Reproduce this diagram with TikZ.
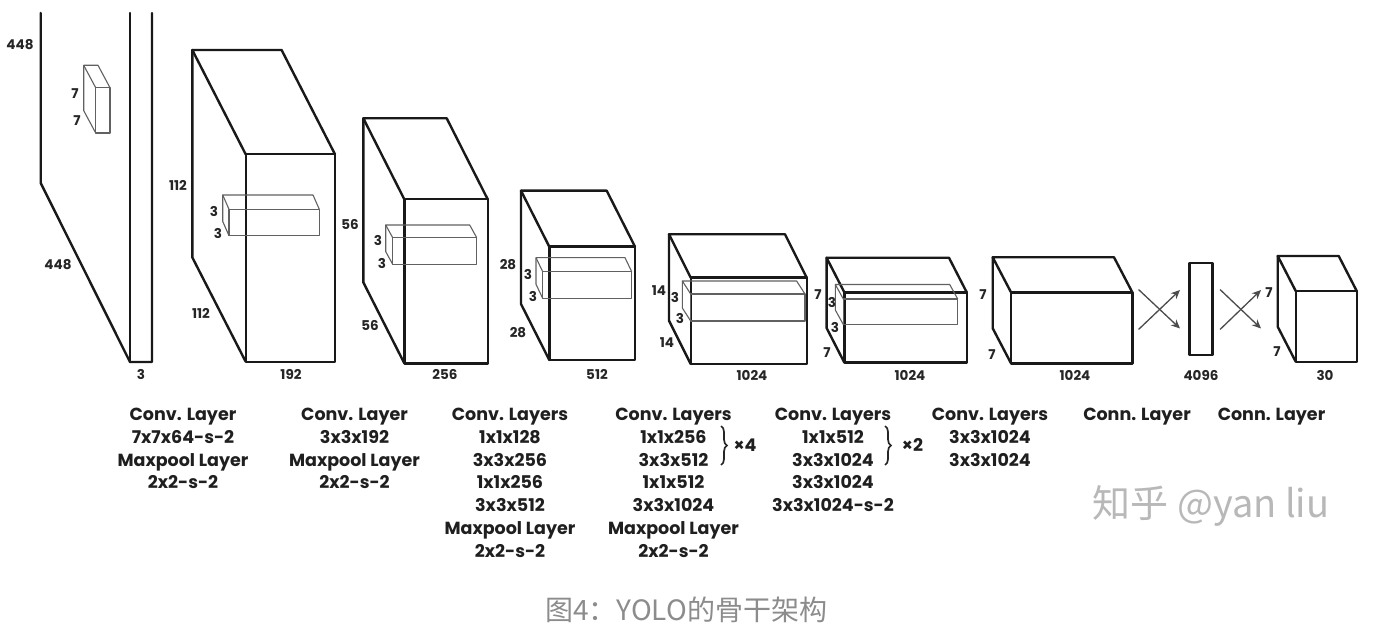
\documentclass[tikz,border=0pt]{standalone}
\usepackage{fontspec}
\setmainfont{Poppins}
\newfontfamily\lblfont{Poppins}
\newfontfamily\cjk{Noto Sans CJK SC}
\usetikzlibrary{arrows.meta,decorations.pathreplacing}
\newcommand\cuboid[7]{% style, x1,y1,x2,y2, dx,dy (back offset up-left)
  \draw[#1] (#2,#3) rectangle (#4,#5);
  \draw[#1] (#2,#3) -- (#2-#6,#3-#7) -- (#4-#6,#3-#7) -- (#4,#3);
  \draw[#1] (#2-#6,#3-#7) -- (#2-#6,#5-#7) -- (#2,#5);
}
\begin{document}
\begin{tikzpicture}[x=1pt,y=-1pt,
  cubeline/.style={line width=2.4pt, line join=round, line cap=round, black!90},
  inline/.style={line width=1.1pt, line join=round, black!62},
  dim/.style={font=\lblfont\bfseries\fontsize{13.5}{13.5}\selectfont, inner sep=0pt, text=black!85},
  lbl/.style={font=\lblfont\bfseries\fontsize{17.5}{17.5}\selectfont, inner sep=0pt, anchor=base, text=black!88},
  xarrow/.style={line width=1.3pt, black!70, -{Stealth[length=9pt,width=8pt]}},
  bracestyle/.style={decorate, decoration={brace, amplitude=6pt}, line width=1.7pt, black!85},
]
\fill[white] (0,0) rectangle (1378,644);
\useasboundingbox (0,0) rectangle (1378,644);

% input image plane
\draw[cubeline] (40.7,13) -- (40.7,183) -- (130,362) -- (152,362) -- (152,13);
\draw[cubeline] (130,13) -- (130,362);
\cuboid{inline}{95.7}{87.7}{110}{133}{12}{22.4}

% feature blocks
\cuboid{cubeline}{245.7}{154.3}{335}{361.7}{53.4}{104.3}
\cuboid{inline}{229}{209.3}{319.3}{235.7}{6.3}{14.3}
\cuboid{cubeline}{404.3}{199.3}{487.7}{363.3}{41}{81}
\cuboid{inline}{392.7}{237.7}{476.7}{264.3}{7}{12.7}
\cuboid{cubeline}{549.3}{246.7}{635}{360}{28.3}{56}
\cuboid{inline}{542.7}{271.7}{631.7}{298.3}{6.7}{14}
\cuboid{cubeline}{690.7}{277.7}{806.7}{364}{21.7}{43.4}
\cuboid{inline}{690.7}{294}{805}{321}{8.4}{13}
\cuboid{cubeline}{844.3}{292.3}{966.7}{362.5}{17.7}{34.5}
\cuboid{inline}{843.3}{299}{957.7}{324.5}{8}{14.5}
\cuboid{cubeline}{1011}{292.3}{1132.3}{363.3}{18.3}{35}
\draw[cubeline] (1189.3,263.3) rectangle (1212.3,355);
\cuboid{cubeline}{1295.7}{291}{1356.7}{361.7}{18}{35}

% connection arrows
\coordinate (a1s) at (1138.5,289.5); \coordinate (a1e) at (1180,328.5);
\coordinate (a2s) at (1138.5,329.5); \coordinate (a2e) at (1180,290);
\coordinate (b1s) at (1220,289.5);   \coordinate (b1e) at (1261,328.5);
\coordinate (b2s) at (1220,329.5);   \coordinate (b2e) at (1261,290);
\draw[xarrow] (a1s) -- (a1e);
\draw[xarrow] (a2s) -- (a2e);
\draw[xarrow] (b1s) -- (b1e);
\draw[xarrow] (b2s) -- (b2e);

% dimension labels
\node[dim] (d1) at (20,45) {448};
\node[dim] (d2) at (58,265) {448};
\node[dim] (d3) at (141,374) {3};
\node[dim] (d4) at (75,94) {7};
\node[dim] (d5) at (77,121) {7};
\node[dim] (d6) at (178,185) {112};
\node[dim] (d7) at (201,313) {112};
\node[dim] (d8) at (291,374) {192};
\node[dim] (d9) at (214,211) {3};
\node[dim] (d10) at (218,233) {3};
\node[dim] (d11) at (350,224) {56};
\node[dim] (d12) at (370,325) {56};
\node[dim] (d13) at (445,374) {256};
\node[dim] (d14) at (378,240) {3};
\node[dim] (d15) at (382,263) {3};
\node[dim] (d16) at (508,265) {28};
\node[dim] (d17) at (518,333) {28};
\node[dim] (d18) at (597,374) {512};
\node[dim] (d19) at (528,274) {3};
\node[dim] (d20) at (533,296) {3};
\node[dim] (d21) at (659,291) {14};
\node[dim] (d22) at (667,343) {14};
\node[dim] (d23) at (752,375) {1024};
\node[dim] (d24) at (675,297) {3};
\node[dim] (d25) at (680,318) {3};
\node[dim] (d26) at (818,295) {7};
\node[dim] (d27) at (827,353) {7};
\node[dim] (d28) at (910,375) {1024};
\node[dim] (d29) at (832,302) {3};
\node[dim] (d30) at (835,327) {3};
\node[dim] (d31) at (983,295) {7};
\node[dim] (d32) at (992,355) {7};
\node[dim] (d33) at (1075,375) {1024};
\node[dim] (d34) at (1201,375) {4096};
\node[dim] (d35) at (1269,293) {7};
\node[dim] (d36) at (1277,352) {7};
\node[dim] (d37) at (1325,375) {30};

% layer descriptions
\foreach \cx/\lines [count=\c] in {
  183/{Conv. Layer,7x7x64-s-2,Maxpool Layer,2x2-s-2},
  354.5/{Conv. Layer,3x3x192,Maxpool Layer,2x2-s-2},
  510/{Conv. Layers,1x1x128,3x3x256,1x1x256,3x3x512,Maxpool Layer,2x2-s-2},
  673.5/{Conv. Layers,1x1x256,3x3x512,1x1x512,3x3x1024,Maxpool Layer,2x2-s-2},
  833/{Conv. Layers,1x1x512,3x3x1024,3x3x1024,3x3x1024-s-2},
  990/{Conv. Layers,3x3x1024,3x3x1024},
  1137/{Conn. Layer},
  1271.5/{Conn. Layer}}{
  \foreach \t [count=\i] in \lines {
    \node[lbl] (t\c-\i) at (\cx,{420.5+22.8*(\i-1)}) {\t};
  }
}
\coordinate (br1t) at (721,426); \coordinate (br1b) at (721,465);
\coordinate (br2t) at (885,426); \coordinate (br2b) at (885,465);
\draw[bracestyle] (br1t) -- (br1b);
\draw[bracestyle] (br2t) -- (br2b);
\node[lbl, anchor=center] (rep4) at (745,445) {×4};
\node[lbl, anchor=center] (rep2) at (912.5,445) {×2};

% watermark and caption
\node[font=\cjk\fontsize{38}{38}\selectfont, text=black!28, inner sep=0pt] (wm) at (1211,506) {知乎 @yan liu};
\node[font=\cjk\fontsize{28}{28}\selectfont, text=black!45, inner sep=0pt] (cap) at (686,610) {图4：YOLO的骨干架构};
\end{tikzpicture}
\end{document}
